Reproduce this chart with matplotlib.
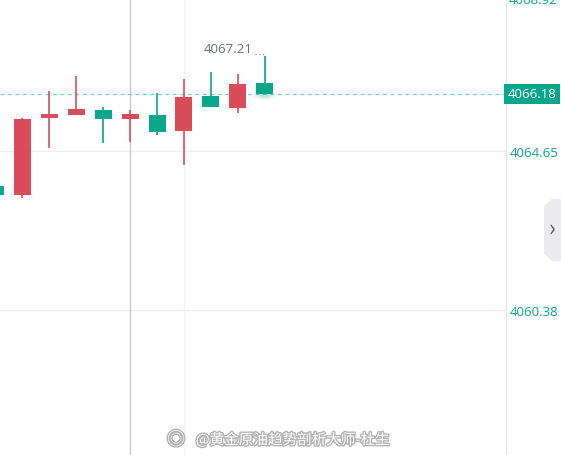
import matplotlib.pyplot as plt
import matplotlib.patheffects as pe
from matplotlib.patches import Rectangle, Polygon, Ellipse

plt.rcParams['font.family'] = ['Noto Sans CJK SC', 'DejaVu Sans']

# K线数据 (开, 高, 低, 收)
opens = [4063.71, 4063.47, 4065.54, 4065.62, 4065.75, 4065.51, 4065.62, 4065.19, 4066.13, 4065.80, 4066.48]
highs = [4063.71, 4065.54, 4066.26, 4066.66, 4065.83, 4065.75, 4066.21, 4066.58, 4066.77, 4066.72, 4067.21]
lows = [4063.47, 4063.39, 4064.73, 4065.62, 4064.86, 4064.89, 4065.08, 4064.27, 4065.83, 4065.67, 4066.18]
closes = [4063.47, 4065.51, 4065.64, 4065.78, 4065.51, 4065.64, 4065.16, 4066.10, 4065.83, 4066.45, 4066.18]

grid_prices = [4060.38, 4064.65]
top_label = '4068.92'
last_price = 4066.18
high_label = '4067.21'
watermark = '@黄金原油趋势剖析大师-杜生'

up_color = '#db4c5a'
down_color = '#08a68b'
num_font = ['Open Sans', 'DejaVu Sans']

fig = plt.figure(figsize=(5.61, 4.56), dpi=100)
ax = fig.add_axes([0, 0, 506 / 561, 1])

# 网格线
for g in grid_prices:
    ax.axhline(g, color='#efeff2', lw=1, zorder=0)
ax.axvline(7, color='#f3f3f5', lw=1, zorder=0)
ax.axvline(4.98, color='#c6c6cc', lw=1, zorder=1)

# 蜡烛
w = 0.63
for i, (o, h, l, c) in enumerate(zip(opens, highs, lows, closes)):
    col = up_color if c >= o else down_color
    ax.vlines(i, l, h, color=col, lw=1.2, zorder=2)
    ax.add_patch(Rectangle((i - w / 2, min(o, c)), w, abs(c - o), color=col, lw=0, zorder=3))

# 当前价虚线
ax.axhline(last_price, color='#6fd3bf', lw=0.9, ls=(0, (3, 3)), zorder=1)

# 最后一根的光晕
for r, a in [(0.9, 0.06), (0.6, 0.1), (0.35, 0.15)]:
    ax.add_patch(Ellipse((10, last_price - 0.05), r, r * 0.25, color=down_color, alpha=a, lw=0, zorder=2))

# 最高价标注
ax.text(9.55, highs[-1] + 0.02, high_label, ha='right', va='bottom', fontsize=9.5,
        color='#6b6e78', family=num_font)
ax.plot([9.63, 10], [highs[-1] + 0.04, highs[-1] + 0.04], color='#8a8d96', lw=0.9, ls=(0, (1, 2)))

ax.set_xlim(0.164, 18.97)
ax.set_ylim(4056.49, 4068.73)

# 右侧价格轴
ax.yaxis.tick_right()
ax.set_yticks(grid_prices)
ax.set_yticklabels([f'{g:.2f}' for g in grid_prices], family=num_font)
ax.tick_params(axis='y', length=0, pad=3, labelsize=9.5, labelcolor=down_color)
ax.set_xticks([])
for s in ['top', 'left', 'bottom']:
    ax.spines[s].set_visible(False)
ax.spines['right'].set_color('#e4e4ea')

ax.text(1.006, 1.0, top_label, transform=ax.transAxes,
        ha='left', va='center', fontsize=9.5, color=down_color, clip_on=False, family=num_font)
ax.text(1.003, last_price, f'{last_price:.2f}', transform=ax.get_yaxis_transform(),
        ha='left', va='center', fontsize=9.5, color='white', clip_on=False, family=num_font,
        bbox=dict(boxstyle='square,pad=0.25', fc=down_color, ec='none'))

# 右侧折叠按钮
fig.patches.append(Polygon([[544 / 561, 1 - 207 / 456], [552 / 561, 1 - 200 / 456], [561 / 561, 1 - 200 / 456],
                            [561 / 561, 1 - 262 / 456], [552 / 561, 1 - 262 / 456], [544 / 561, 1 - 255 / 456]],
                           closed=True, transform=fig.transFigure, fc='#ebebef', ec='none'))
fig.text(552 / 561, 1 - 229 / 456, '›', ha='center', va='center', fontsize=16, color='#555560')

# 水印
fig.text(293 / 561, 1 - 441 / 456, watermark, ha='center', va='center', fontsize=10.5, color='white',
         path_effects=[pe.withStroke(linewidth=2, foreground='#b4b4b4')])
fig.text(176 / 561, 1 - 441 / 456, '◎', ha='center', va='center', fontsize=13, color='white',
         path_effects=[pe.withStroke(linewidth=2, foreground='#b4b4b4')])

fig.savefig('out.png', dpi=100)
